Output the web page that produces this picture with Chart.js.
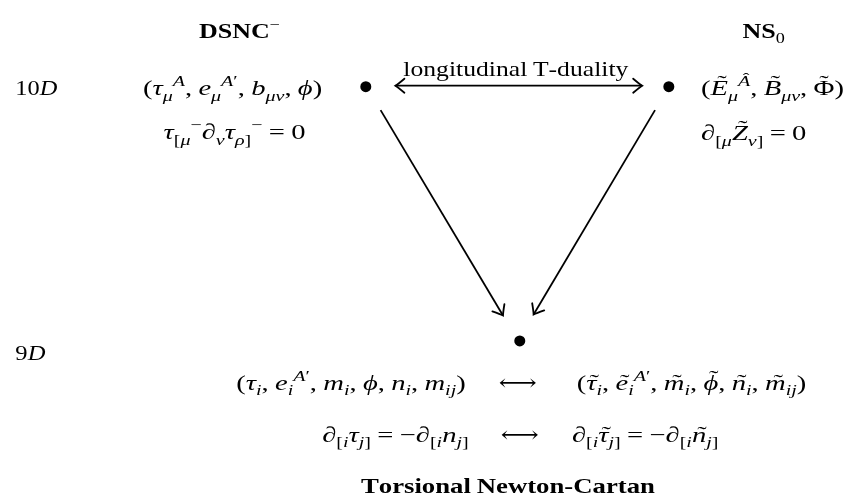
<!DOCTYPE html>
<html>
<head>
<meta charset="utf-8">
<script src="https://cdn.jsdelivr.net/npm/chart.js@4.4.1/dist/chart.umd.min.js"></script>
<style>
  html, body { margin: 0; padding: 0; background: #fff; }
  #wrap { width: 853px; height: 502px; }
</style>
</head>
<body>
<div id="wrap"><canvas id="diagram" width="853" height="502"></canvas></div>
<script>
// nodes of the diagram (DSNC-, NS0, TNC)
const nodeNames = ['DSNC-', 'NS0', 'TNC'];
const nodeX = [365, 672, 521];
const nodeY = [83, 83, 343];

// edges: start / end points and whether the start also has a head
const edgeX1 = [395, 380, 658];
const edgeY1 = [82, 107, 107];
const edgeX2 = [645, 504, 535];
const edgeY2 = [82, 317, 316];
const edgeBoth = [true, false, false];

// texts (math written with _ and ^ for sub/superscripts, ~ and ^ accents as combining marks)
const titles = ['DSNC^−', 'NS_0', 'Torsional Newton-Cartan'];
const dims = ['10D', '9D'];
const edgeLabel = 'longitudinal T-duality';
const fields10 = ['(τ_μ^A, e_μ^{A′}, b_{μν}, ϕ)', '(E\u0303_μ^{A\u0302}, B\u0303_{μν}, Φ\u0303)'];
const constraints10 = ['τ_{[μ}^−∂_ντ_{ρ]}^− = 0', '∂_{[μ}Z\u0303_{ν]} = 0'];
const fields9 = ['(τ_i, e_i^{A′}, m_i, ϕ, n_i, m_{ij})', '(τ\u0303_i, e\u0303_i^{A′}, m\u0303_i, ϕ\u0303, n\u0303_i, m\u0303_{ij})'];
const constraints9 = ['∂_{[i}τ_{j]} = −∂_{[i}n_{j]}', '∂_{[i}τ\u0303_{j]} = −∂_{[i}n\u0303_{j]}'];
const dualArrow = '⟷';

// where each text goes: x, baseline y, anchor, target width, size, kind
const labels = [
  { s: titles[0], x: 237, y: 33, a: 'center', w: 89, size: 20, kind: 'b' },
  { s: titles[1], x: 768, y: 33, a: 'center', w: 47, size: 20, kind: 'b' },
  { s: titles[2], x: 509, y: 498, a: 'center', w: 294, size: 21, kind: 'b' },
  { s: dims[0], x: 10, y: 92, a: 'left', w: 42, size: 22, kind: 'm' },
  { s: dims[1], x: 10, y: 362, a: 'left', w: 30, size: 22, kind: 'm' },
  { s: edgeLabel, x: 517, y: 72, a: 'center', w: 225, size: 21, kind: 't' },
  { s: fields10[0], x: 230, y: 92, a: 'center', w: 184, size: 22, kind: 'm' },
  { s: fields10[1], x: 777, y: 92, a: 'center', w: 145, size: 22, kind: 'm' },
  { s: constraints10[0], x: 232, y: 137, a: 'center', w: 159, size: 22, kind: 'm' },
  { s: constraints10[1], x: 758, y: 138, a: 'center', w: 120, size: 22, kind: 'm' },
  { s: fields9[0], x: 350, y: 393, a: 'center', w: 234, size: 22, kind: 'm' },
  { s: fields9[1], x: 695, y: 393, a: 'center', w: 236, size: 22, kind: 'm' },
  { s: dualArrow, x: 519, y: 393, a: 'center', w: 38, size: 22, kind: 'm' },
  { s: constraints9[0], x: 395, y: 446, a: 'center', w: 166, size: 22, kind: 'm' },
  { s: constraints9[1], x: 648, y: 446, a: 'center', w: 148, size: 22, kind: 'm' },
  { s: dualArrow, x: 521, y: 446, a: 'center', w: 38, size: 22, kind: 'm' }
];

const FAMILY = '"Liberation Serif", "DejaVu Serif", "DejaVu Sans", serif';
const MARKS = /[\u0300-\u036f]/;

// tiny parser: splits a math string into tokens with a level (0, -1 sub, 1 sup)
function parseMath(src, kind) {
  const ch = Array.from(src);
  const out = [];
  let i = 0;
  function readGroup() {
    if (ch[i] === '{') {
      let depth = 1, j = i + 1;
      while (depth > 0 && j < ch.length) {
        if (ch[j] === '{') depth++;
        else if (ch[j] === '}') depth--;
        j++;
      }
      const g = ch.slice(i + 1, j - 1).join('');
      i = j;
      return g;
    }
    let g = ch[i++];
    while (i < ch.length && MARKS.test(ch[i])) g += ch[i++];
    return g;
  }
  function fontOf(t) {
    if (kind === 'b') return 'b';
    if (kind === 't') return 'r';
    if (/^[A-Za-zα-ωϕ∂]/.test(t)) return 'i';
    return 'r';
  }
  function push(text, lvl) {
    const cs = Array.from(text);
    let k = 0;
    while (k < cs.length) {
      let t = cs[k++];
      let acc = '';
      while (k < cs.length && MARKS.test(cs[k])) {
        acc = cs[k] === '\u0303' ? '˜' : 'ˆ';
        k++;
      }
      out.push({ t, acc, lvl, f: fontOf(t) });
    }
  }
  while (i < ch.length) {
    const c = ch[i];
    if (kind !== 't' && (c === '_' || c === '^')) {
      i++;
      push(readGroup(), c === '_' ? -1 : 1);
    } else {
      let t = ch[i++];
      while (i < ch.length && MARKS.test(ch[i])) t += ch[i++];
      push(t, 0);
    }
  }
  return out;
}

function tokenSize(tok, size) {
  return tok.lvl === 0 ? size : size * 0.7;
}

function tokenFont(tok, size) {
  let st = '';
  if (tok.f === 'i') st = 'italic ';
  if (tok.f === 'b') st = tok.lvl === 0 ? 'bold ' : '';
  return st + tokenSize(tok, size).toFixed(1) + 'px ' + FAMILY;
}

function drawLabel(ctx, lab, px, py) {
  const toks = parseMath(lab.s, lab.kind);
  let total = 0;
  const widths = toks.map(tok => {
    ctx.font = tokenFont(tok, lab.size);
    const w = tok.t === ' ' ? lab.size * 0.22 : ctx.measureText(tok.t).width;
    total += w;
    return w;
  });
  let sx = lab.w ? lab.w / total : 1;
  sx = Math.max(0.75, Math.min(1.3, sx));
  const left = lab.a === 'center' ? px - total * sx / 2 : px;
  ctx.save();
  ctx.translate(left, py);
  ctx.scale(sx, 1);
  ctx.fillStyle = '#000';
  ctx.textBaseline = 'alphabetic';
  ctx.textAlign = 'left';
  let x = 0;
  toks.forEach((tok, k) => {
    ctx.font = tokenFont(tok, lab.size);
    let dy = 0;
    if (tok.lvl === -1) dy = lab.size * 0.24;
    if (tok.lvl === 1) dy = -lab.size * 0.42;
    if (tok.t !== ' ') ctx.fillText(tok.t, x, dy);
    if (tok.acc) {
      const sz = tokenSize(tok, lab.size);
      const tall = /[A-ZΑ-Ωϕ∂]/.test(tok.t);
      const skew = tok.f === 'i' ? sz * 0.1 : 0;
      const raise = tall ? sz * 0.24 : sz * 0.02;
      ctx.font = sz.toFixed(1) + 'px ' + FAMILY;
      const aw = ctx.measureText(tok.acc).width;
      ctx.fillText(tok.acc, x + widths[k] / 2 - aw / 2 + skew, dy - raise);
    }
    x += widths[k];
  });
  ctx.restore();
}

function drawHead(ctx, x, y, ang) {
  ctx.save();
  ctx.translate(x, y);
  ctx.rotate(ang);
  ctx.beginPath();
  ctx.moveTo(-9, -7);
  ctx.quadraticCurveTo(-2.5, -1.5, 0, 0);
  ctx.quadraticCurveTo(-2.5, 1.5, -9, 7);
  ctx.lineWidth = 1.8;
  ctx.strokeStyle = '#000';
  ctx.lineCap = 'round';
  ctx.stroke();
  ctx.restore();
}

const diagramPlugin = {
  id: 'diagram',
  afterDatasetsDraw(chart) {
    const ctx = chart.ctx;
    const xs = chart.scales.x, ys = chart.scales.y;
    // arrow heads
    edgeX1.forEach((_, k) => {
      const x1 = xs.getPixelForValue(edgeX1[k]), y1 = ys.getPixelForValue(edgeY1[k]);
      const x2 = xs.getPixelForValue(edgeX2[k]), y2 = ys.getPixelForValue(edgeY2[k]);
      const ang = Math.atan2(y2 - y1, x2 - x1);
      drawHead(ctx, x2, y2, ang);
      if (edgeBoth[k]) drawHead(ctx, x1, y1, ang + Math.PI);
    });
    // texts
    labels.forEach(lab => {
      drawLabel(ctx, lab, xs.getPixelForValue(lab.x), ys.getPixelForValue(lab.y));
    });
  }
};

const edgeSets = edgeX1.map((_, k) => ({
  label: 'edge ' + k,
  data: [{ x: edgeX1[k], y: edgeY1[k] }, { x: edgeX2[k], y: edgeY2[k] }],
  showLine: true,
  borderColor: '#000',
  borderWidth: 1.8,
  pointRadius: 0,
  fill: false
}));

new Chart(document.getElementById('diagram').getContext('2d'), {
  type: 'scatter',
  data: {
    datasets: [
      {
        label: 'nodes',
        data: nodeNames.map((n, k) => ({ x: nodeX[k], y: nodeY[k] })),
        pointRadius: 5.5,
        pointBackgroundColor: '#000',
        pointBorderWidth: 0,
        showLine: false
      },
      ...edgeSets
    ]
  },
  options: {
    responsive: false,
    animation: false,
    events: [],
    layout: { padding: 0 },
    plugins: { legend: { display: false }, tooltip: { enabled: false } },
    scales: {
      x: { type: 'linear', min: 0, max: 853, display: false },
      y: { type: 'linear', min: 0, max: 502, reverse: true, display: false }
    }
  },
  plugins: [diagramPlugin]
});
</script>
</body>
</html>
